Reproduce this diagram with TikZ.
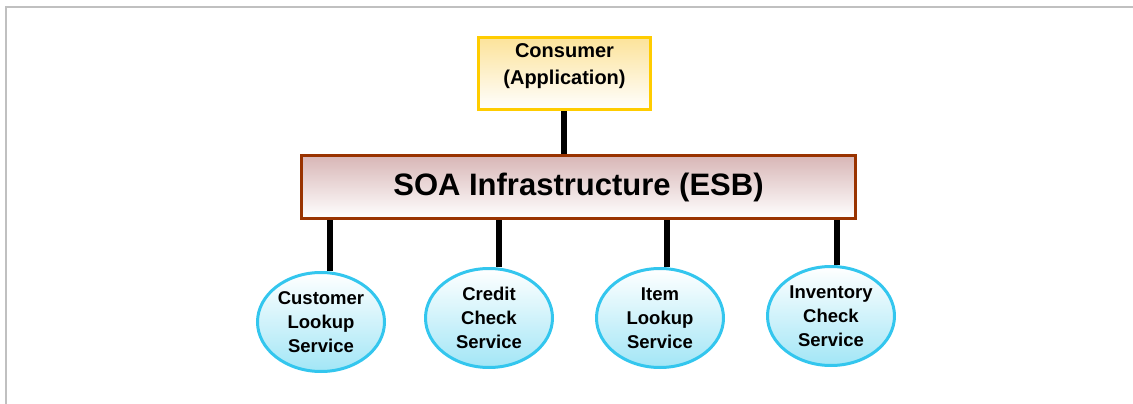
\documentclass[tikz,border=0pt]{standalone}
\usepackage{fontspec}
\setmainfont{Liberation Sans}
\usetikzlibrary{shapes.geometric}

\definecolor{consumerline}{HTML}{FFCC00}
\definecolor{consumertop}{HTML}{FCE39A}
\definecolor{esbline}{HTML}{993300}
\definecolor{esbtop}{HTML}{D8B6B6}
\definecolor{serviceline}{HTML}{33C6EE}
\definecolor{servicebottom}{HTML}{A2E6F6}
\definecolor{framegrey}{HTML}{C0C0C0}

\begin{document}
\begin{tikzpicture}[x=1pt,y=-1pt,
  consumerbox/.style={draw=consumerline,line width=3pt,top color=consumertop,bottom color=white,
    minimum width=172pt,minimum height=72pt,inner sep=0pt,align=center,text depth=18pt,
    font=\bfseries\fontsize{20}{27}\selectfont},
  esbbox/.style={draw=esbline,line width=3pt,top color=esbtop,bottom color=white,
    minimum width=554pt,minimum height=63pt,inner sep=0pt,
    font=\bfseries\fontsize{31}{36}\selectfont},
  service/.style={ellipse,draw=serviceline,line width=3pt,top color=white,bottom color=servicebottom,
    minimum width=127pt,minimum height=99pt,inner sep=0pt,align=center,
    font=\bfseries\fontsize{18.5}{24}\selectfont},
  link/.style={line width=6pt,black}]
\useasboundingbox (0,0) rectangle (1133,404);
\draw[framegrey,line width=2pt] (6,404) -- (6,7.5) -- (1133,7.5);

% consumer and the bus
\node[consumerbox] (consumer) at (564.5,73.5) {Consumer\\(Application)};
\node[esbbox] (esb) at (578.5,187) {SOA Infrastructure (ESB)};

% services
\node[service] (customer) at (321,322) {Customer\\Lookup\\Service};
\node[service] (credit) at (489,318) {Credit\\Check\\Service};
\node[service] (item) at (660,318) {Item\\Lookup\\Service};
\node[service] (inventory) at (831,316) {Inventory\\Check\\Service};

% connectors
\draw[link] ([xshift=-1pt]consumer.south) -- ([xshift=-1pt]consumer.south |- esb.north);
\draw[link] ([xshift=9pt]customer.north) -- ([xshift=9pt]customer.north |- esb.south);
\draw[link] ([xshift=10pt]credit.north) -- ([xshift=10pt]credit.north |- esb.south);
\draw[link] ([xshift=7pt]item.north) -- ([xshift=7pt]item.north |- esb.south);
\draw[link] ([xshift=6pt]inventory.north) -- ([xshift=6pt]inventory.north |- esb.south);
\end{tikzpicture}
\end{document}
